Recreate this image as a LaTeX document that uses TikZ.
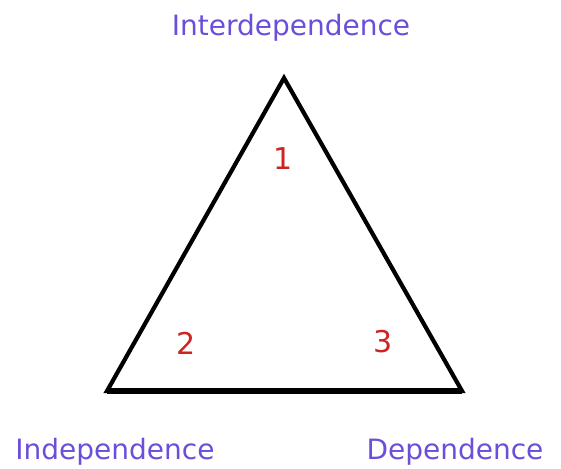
\documentclass[tikz,border=0pt]{standalone}
\usepackage{fontspec}
\setmainfont{DejaVu Sans}
\usetikzlibrary{positioning}
\definecolor{lblpurple}{RGB}{108,78,218}
\definecolor{numred}{RGB}{205,35,35}

\begin{document}
\begin{tikzpicture}[
      x=1pt, y=-1pt,
      lbl/.style={text=lblpurple, font=\fontsize{28}{30}\selectfont, inner sep=0pt},
      num/.style={text=numred, font=\fontsize{30}{32}\selectfont, inner sep=0pt},
      edge/.style={line width=4.2pt, line join=miter},
      base/.style={line width=5.5pt}
    ]
    \useasboundingbox (0,0) rectangle (561,468);

    \coordinate (apex) at (284,78);
    \coordinate (left) at (107,391);
    \coordinate (right) at (462,391);

    \draw[edge] (apex) -- (left) -- (right) -- cycle;
    \draw[base] (left) -- (right);

    \node[lbl] (inter) at (291,28) {Interdependence};
    \node[lbl] (indep) at (115,452) {Independence};
    \node[lbl] (dep) at (455,452) {Dependence};

    \node[num] (one) at (283,159) {1};
    \node[num] (two) at (186,343) {2};
    \node[num] (three) at (383,342) {3};
  \end{tikzpicture}
\end{document}
